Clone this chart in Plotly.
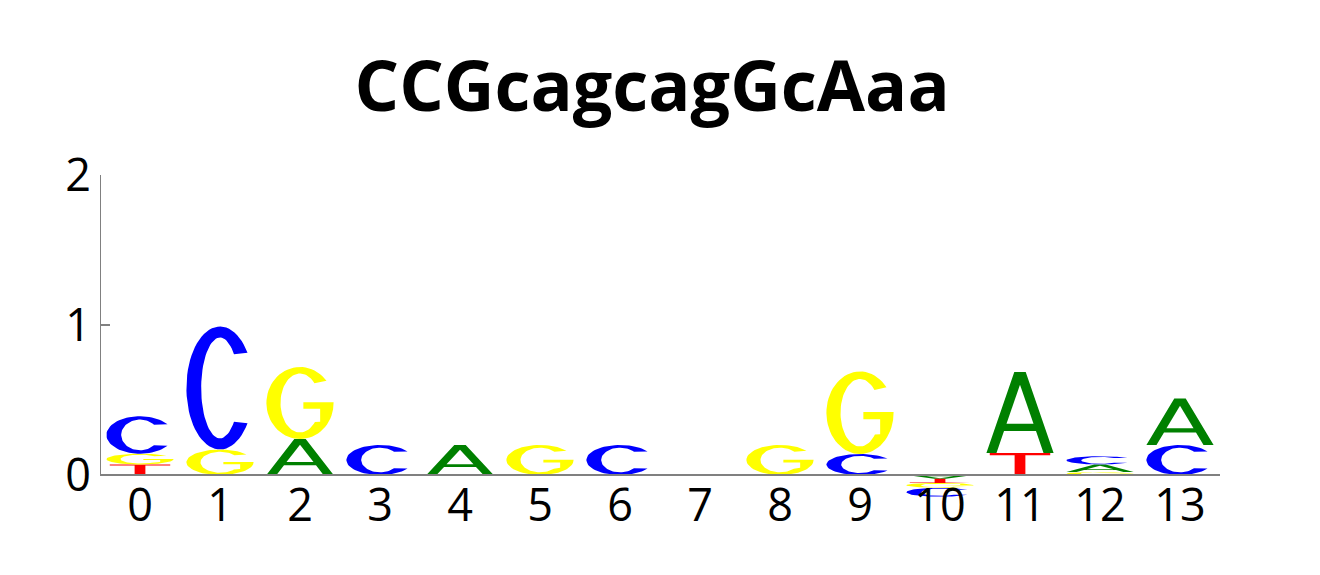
import numpy as np
import plotly.graph_objects as go

# logo data: one height per letter per position (negative values go below 0)
positions = list(range(14))
tick_text = [str(p) for p in positions]
title_text = "CCGcagcagGcAaa"

A = [0, 0, 0.24, 0, 0.20, 0, 0, 0, 0, 0, -0.025, 0.54, 0.050, 0.31]
C = [0.25, 0.82, 0, 0.20, 0, 0, 0.20, 0, 0, 0.14, -0.060, 0, 0.055, 0.20]
G = [0.072, 0.17, 0.48, 0, 0, 0.20, 0, 0, 0.20, 0.55, -0.032, 0, 0.020, 0]
T = [0.07, 0, 0, 0, 0, 0, 0, 0, 0, 0, -0.028, 0.147, 0, 0]

colors = {"A": "#008000", "C": "#0000ff", "G": "#ffff00", "T": "#ff0000"}
GLYPH_W = 0.84
Y_MIN, Y_MAX = -0.3667, 2.0


def arc(rx, ry, a0, a1, n=60):
    t = np.radians(np.linspace(a0, a1, n))
    return list(0.5 + rx * np.cos(t)), list(0.5 + ry * np.sin(t))


def glyph_c():
    ox, oy = arc(0.5, 0.5, 35, 325)
    ix, iy = arc(0.28, 0.41, 318, 42)
    return [(ox + ix, oy + iy)]


def glyph_g():
    ox, oy = arc(0.5, 0.5, 38, 350)
    ix, iy = arc(0.29, 0.41, -40, -318)
    xs = ox + [1.0, 0.55, 0.55, 0.80, 0.80] + ix
    ys = oy + [0.51, 0.51, 0.42, 0.42, 0.24] + iy
    return [(xs, ys)]


def glyph_a():
    outer = ([0, 0.415, 0.585, 1, 0.85, 0.738, 0.262, 0.15],
             [0, 1, 1, 0, 0, 0.27, 0.27, 0])
    hole = ([0.299, 0.701, 0.5], [0.36, 0.36, 0.843])
    return [outer, hole]


def glyph_t():
    return [([0.05, 0.95, 0.95, 0.58, 0.58, 0.42, 0.42, 0.05],
             [1, 1, 0.9, 0.9, 0, 0, 0.9, 0.9])]


glyphs = {"A": glyph_a, "C": glyph_c, "G": glyph_g, "T": glyph_t}
letters = {"A": A, "C": C, "G": G, "T": T}

fig = go.Figure()

for i, p in enumerate(positions):
    vals = [(k, v[i]) for k, v in letters.items() if v[i] != 0]
    pos_vals = sorted([kv for kv in vals if kv[1] > 0], key=lambda kv: kv[1])
    neg_vals = sorted([kv for kv in vals if kv[1] < 0], key=lambda kv: -kv[1])
    stacks = []
    base = 0.0
    for k, v in pos_vals:
        stacks.append((k, base, v, False))
        base += v
    base = 0.0
    for k, v in neg_vals:
        stacks.append((k, base, v, True))
        base += v
    for k, b, h, flip in stacks:
        parts = glyphs[k]()
        for j, (u, w) in enumerate(parts):
            u = np.array(u + [u[0]])
            w = np.array(w + [w[0]])
            xs = p - GLYPH_W / 2 + u * GLYPH_W
            if flip:
                ys = b - w * abs(h)
            else:
                ys = b + w * h
            # second part of A is its counter
            fill = "white" if (k == "A" and j == 1) else colors[k]
            fig.add_trace(go.Scatter(
                x=xs, y=ys, mode="lines", fill="toself", fillcolor=fill,
                line=dict(width=0, color=fill), hoverinfo="skip",
                showlegend=False))

# spines: left one only between 0 and 2, bottom one at y=0
fig.add_shape(type="line", xref="x", yref="y", x0=-0.5, x1=-0.5, y0=0, y1=2,
              line=dict(color="#808080", width=2))
fig.add_shape(type="line", xref="x", yref="y", x0=-0.5, x1=13.5, y0=0, y1=0,
              line=dict(color="#808080", width=2))

# page body has an 8px margin, so the figure is offset by that much
fig.update_layout(
    width=1320, height=575,
    margin=dict(l=92, r=108, t=167, b=53),
    plot_bgcolor="white", paper_bgcolor="white",
    title=dict(text=title_text, x=0.488, xanchor="center", y=0.864, yanchor="middle",
               font=dict(family="Open Sans", size=70, color="black", weight="bold")),
    font=dict(family="Open Sans", color="black"),
)
fig.update_xaxes(
    range=[-0.5, 13.5], tickmode="array", tickvals=positions, ticktext=tick_text,
    ticks="", showgrid=False, zeroline=False, showline=False, automargin=False,
    anchor="free", position=-Y_MIN / (Y_MAX - Y_MIN),
    tickfont=dict(size=45, color="black"),
)
fig.update_yaxes(
    range=[Y_MIN, Y_MAX], tickvals=[0, 1, 2], ticks="inside", ticklen=10, tickwidth=2,
    tickcolor="#808080", showgrid=False, zeroline=False, showline=False,
    automargin=False, ticklabelstandoff=8,
    tickfont=dict(size=45, color="black"),
)

fig.write_html("out.html")
